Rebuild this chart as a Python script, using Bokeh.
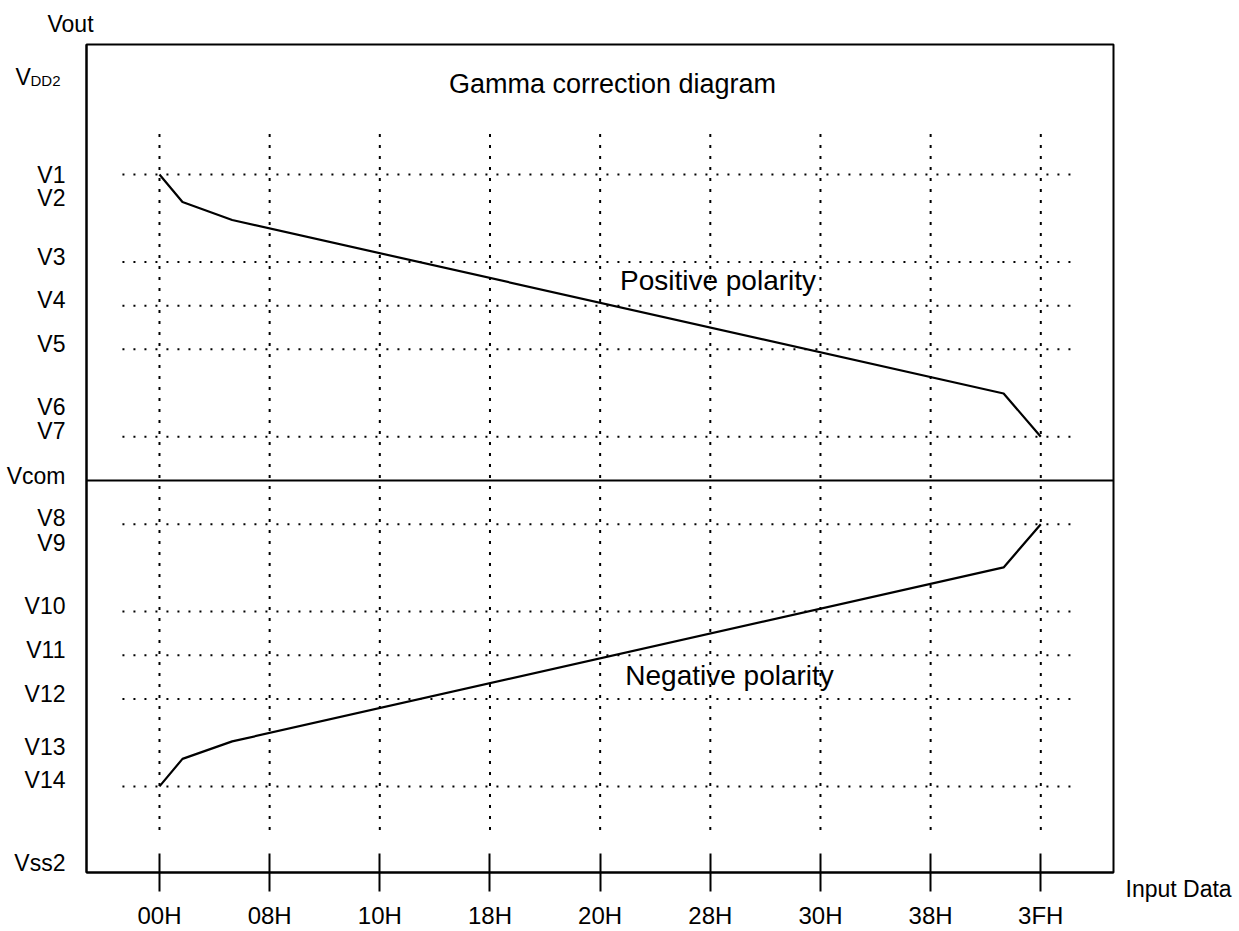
from bokeh.plotting import figure
from bokeh.models import FixedTicker, Span, Label, Range1d
from bokeh.embed import file_html
from bokeh.resources import INLINE

# ---------------- data ----------------
x_ticks = [0, 8, 16, 24, 32, 40, 48, 56, 64]
x_tick_labels = ["00H", "08H", "10H", "18H", "20H", "28H", "30H", "38H", "3FH"]

pos_x = [0, 1.67, 5.28, 61.3, 64]
pos_y = [7.0, 6.37, 5.96, 1.99, 1.0]
neg_x = [0, 1.67, 5.28, 61.3, 64]
neg_y = [-7.0, -6.37, -5.97, -1.99, -1.0]

level_names = ["V1", "V3", "V4", "V5", "V7", "V8", "V10", "V11", "V12", "V14"]
level_values = [7, 5, 4, 3, 1, -1, -3, -4, -5, -7]

y_label_names = ["V1", "V2", "V3", "V4", "V5", "V6", "V7", "Vcom",
                 "V8", "V9", "V10", "V11", "V12", "V13", "V14", "Vss2"]
y_label_pos = [7.0, 6.47, 5.12, 4.12, 3.12, 1.67, 1.14, 0.11,
               -0.87, -1.44, -2.88, -3.88, -4.88, -6.1, -6.86, -8.76]

vdd_level = 9.22
vout_level = 10.455

FONT = "'Liberation Sans', Arial, sans-serif"

p = figure(width=1239, height=931,
           x_range=Range1d(-5.30, 69.28), y_range=Range1d(-8.97, 9.975),
           output_backend="svg", toolbar_location=None,
           min_border_left=86, min_border_top=44,
           min_border_right=126, min_border_bottom=59)
p.xgrid.visible = False
p.ygrid.visible = False
p.outline_line_color = "black"
p.outline_line_width = 2
p.outline_line_alpha = 1.0
p.background_fill_color = "white"
p.border_fill_color = "white"

# bottom axis
xa = p.xaxis[0]
xa.ticker = FixedTicker(ticks=x_ticks)
xa.major_label_overrides = dict(zip(x_ticks, x_tick_labels))
xa.major_tick_in = 19
xa.major_tick_out = 19
xa.major_tick_line_width = 2
xa.major_tick_line_color = "black"
xa.minor_tick_line_color = None
xa.axis_line_width = 2
xa.axis_line_color = "black"
xa.major_label_standoff = 10
xa.major_label_text_font = FONT
xa.major_label_text_font_size = "24px"
xa.major_label_text_color = "black"

# left axis
ya = p.yaxis[0]
ya.ticker = FixedTicker(ticks=y_label_pos)
ya.major_label_overrides = dict(zip(y_label_pos, y_label_names))
ya.major_tick_line_color = None
ya.major_tick_in = 0
ya.major_tick_out = 0
ya.minor_tick_line_color = None
ya.axis_line_width = 2
ya.axis_line_color = "black"
ya.major_label_standoff = 21
ya.major_label_text_font = FONT
ya.major_label_text_font_size = "23px"
ya.major_label_text_color = "black"

# dotted guide lines
p.segment(x0=-2.69, y0=level_values, x1=66.67, y1=level_values,
          line_color="black", line_width=2, line_dash="2 9")
p.segment(x0=x_ticks, y0=-8.0, x1=x_ticks, y1=8.0,
          line_color="black", line_width=2, line_dash="3 8")

# Vcom line
p.add_layout(Span(location=0, dimension="width", line_color="black", line_width=2))

# gamma curves
p.line(pos_x, pos_y, line_color="black", line_width=2.2)
p.line(neg_x, neg_y, line_color="black", line_width=2.2)

def lab(x, y, text, size, x_offset=0, align="center", place=None, baseline="alphabetic"):
    l = Label(x=x, y=y, text=text, x_offset=x_offset,
              text_font=FONT, text_font_size=size, text_color="black",
              text_align=align, text_baseline=baseline)
    if place is None:
        p.add_layout(l)
    else:
        p.add_layout(l, place)

lab(32.9, 9.06, "Gamma correction diagram", "27px")
lab(40.56, 4.58, "Positive polarity", "28px")
lab(41.4, -4.46, "Negative polarity", "28px")
lab(69.28, -9.34, "Input Data", "23px", x_offset=12, align="left", place="right")
lab(-5.30, vout_level, "Vout", "23px", x_offset=-39, align="left", place="above", baseline="middle")
lab(-5.30, vdd_level, "V", "23px", x_offset=-71, align="left", place="right", baseline="middle")
lab(-5.30, vdd_level - 0.07, "DD2", "15px", x_offset=-56, align="left", place="above", baseline="middle")

open("out.html", "w").write(file_html(p, INLINE))
